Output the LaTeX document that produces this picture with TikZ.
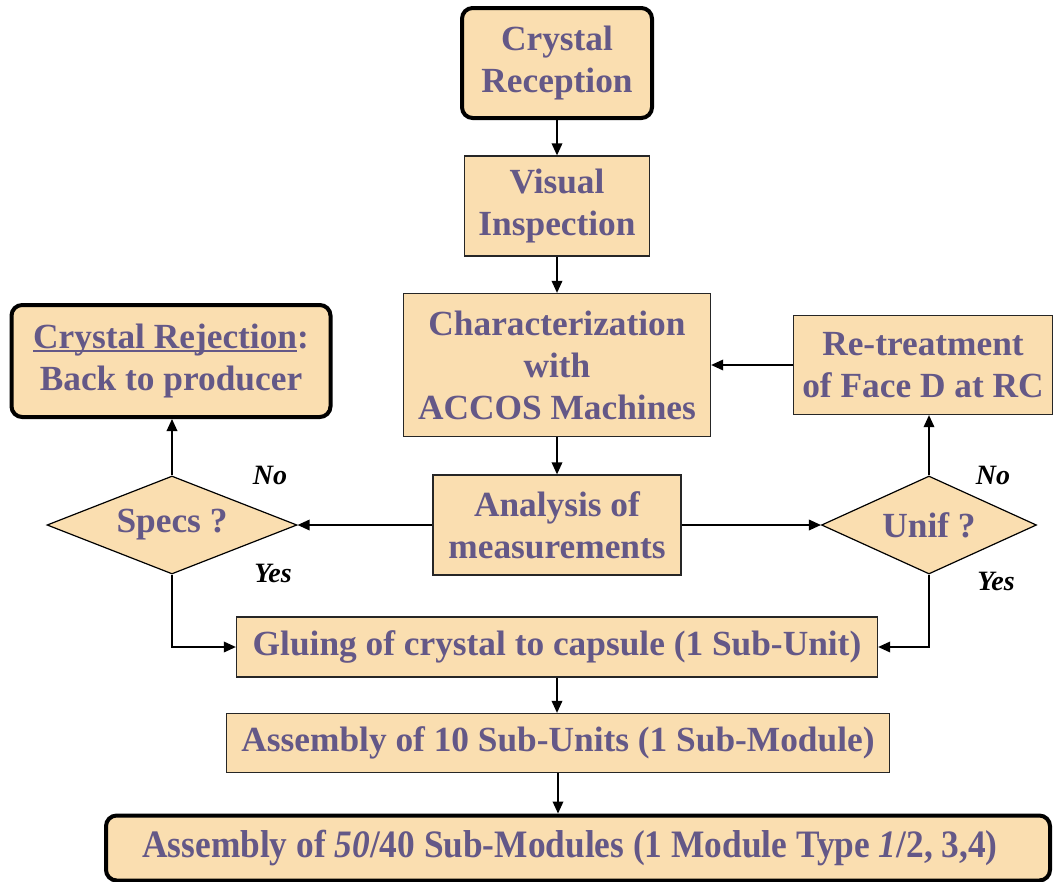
\documentclass[tikz,border=0pt]{standalone}
\usepackage{fontspec}
\setmainfont{Liberation Serif}
\usetikzlibrary{arrows.meta,shapes.geometric}
\definecolor{boxfill}{RGB}{250,222,176}
\definecolor{boxtext}{RGB}{100,88,135}
\newcommand\ulinetext[1]{\setbox0\hbox{#1}\rlap{\rule[-2.5pt]{\wd0}{1.2pt}}\box0}

\begin{document}
\begin{tikzpicture}[x=0.75pt, y=-0.75pt]
\tikzset{box/.style = {shape=rectangle, draw=black!85, line width=1pt, fill=boxfill, text=boxtext,
    font=\fontsize{26.5}{31.5}\selectfont\bfseries, align=center, inner sep=0pt}}
\tikzset{endbox/.style = {box, rounded corners=8pt, draw=black, line width=3pt}}
\tikzset{decision/.style = {box, shape=diamond, draw=black, line width=0.9pt}}
\tikzset{arr/.style = {draw=black, line width=1pt, -{Triangle[length=9pt, width=8pt]}}}
\tikzset{lbl/.style = {font=\fontsize{21}{24}\selectfont\bfseries\itshape}}
\useasboundingbox (0,0) rectangle (1057,882);

% Main column
\node[endbox, minimum width=142.5pt, minimum height=82.5pt] (rec) at (557,63) {Crystal\\Reception};
\node[box, minimum width=138.75pt, minimum height=75pt] (vis) at (557,206) {Visual\\Inspection};
\node[box, minimum width=230.25pt, minimum height=107.25pt] (char) at (557,365) {Characterization\\with\\ACCOS Machines};
\node[box, minimum width=186pt, minimum height=75pt] (ana) at (557,525) {Analysis of\\measurements};

% Side branches
\node[endbox, minimum width=239.25pt, minimum height=84pt] (rej) at (171,361) {\ulinetext{Crystal Rejection}:\\Back to producer};
\node[box, minimum width=194.25pt, minimum height=74.25pt] (ret) at (923,365) {Re-treatment\\of Face D at RC};
\node[decision, shape aspect=2.55, minimum width=187.5pt, minimum height=73.5pt] (specs) at (172,525) {Specs ?};
\node[decision, shape aspect=2.19, minimum width=161.25pt, minimum height=73.5pt] (unif) at (929,525) {Unif ?};

% Assembly
\node[box, minimum width=480.75pt, minimum height=45pt] (glue) at (557,647) {Gluing of crystal to capsule (1 Sub-Unit)};
\node[box, minimum width=497.25pt, minimum height=44.25pt] (asm10) at (558,743) {Assembly of 10 Sub-Units (1 Sub-Module)};
\node[endbox, minimum width=708pt, minimum height=48.75pt] (asm50) at (578,848)
    {\scalebox{1}[1.1]{Assembly of \textit{50}/40 Sub-Modules (1 Module Type \textit{1}/2, 3,4)}\hspace{12pt}};

% Answers
\node[lbl] (no1) at (270,475) {No};
\node[lbl] (yes1) at (273,573) {Yes};
\node[lbl] (no2) at (993,475) {No};
\node[lbl] (yes2) at (996,581) {Yes};

% Connectors
\draw[arr] (rec) -- (vis);
\draw[arr] (vis) -- (char);
\draw[arr] (char) -- (ana);
\draw[arr] (ana) -- (specs);
\draw[arr] (ana) -- (unif);
\draw[arr] (specs.north) -- (specs.north |- rej.south);
\draw[arr] (unif.north) -- (unif.north |- ret.south);
\draw[arr] (ret) -- (char);
\draw[arr] (specs.south) |- (glue.west);
\draw[arr] (unif.south) |- (glue.east);
\draw[arr] (glue.south) -- (glue.south |- asm10.north);
\draw[arr] (asm10.south) -- (asm10.south |- asm50.north);
\end{tikzpicture}
\end{document}
